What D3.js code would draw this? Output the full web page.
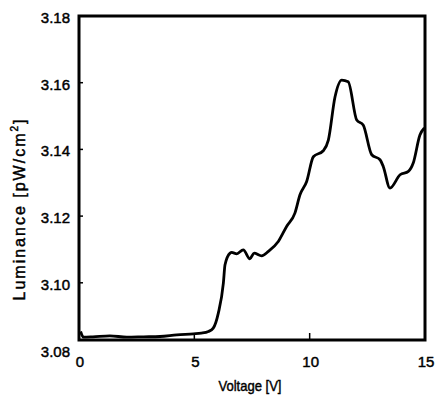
<!DOCTYPE html>
<html>
<head>
<meta charset="utf-8">
<script src="https://cdn.jsdelivr.net/npm/d3@7"></script>
<style>
  body { margin: 0; background: white; }
  text { font-family: "Liberation Sans", Arial, sans-serif; fill: #000; stroke: #000; stroke-width: 0.45; }
</style>
</head>
<body>
<svg id="chart" width="438" height="406"></svg>
<script>
// luminance curve
const voltage = [0.07, 0.19, 0.6, 1.34, 2.07, 2.8, 3.51, 4.24, 4.96, 5.3, 5.61, 5.82, 6.04, 6.26, 6.33, 6.55, 6.62,
  6.84, 7.12, 7.41, 7.59, 7.92, 8.21, 8.64, 9.0, 9.36, 9.58, 9.87, 10.16, 10.59, 10.81, 11.1, 11.39, 11.67,
  12.04, 12.32, 12.69, 13.05, 13.19, 13.48, 13.92, 14.28, 14.49, 14.78, 14.97];
const luminance = [3.0854, 3.0837, 3.0838, 3.0841, 3.0837, 3.0838, 3.0839, 3.0844, 3.0847, 3.0849, 3.0854, 3.0864, 3.0909, 3.1000, 3.1054, 3.1089, 3.1091,
  3.1087, 3.1099, 3.1072, 3.1089, 3.1081, 3.1094, 3.1124, 3.1169, 3.1209, 3.1264, 3.1304, 3.1378, 3.1396, 3.1428, 3.1558, 3.1608, 3.1603,
  3.1488, 3.1473, 3.1384, 3.1369, 3.1349, 3.1284, 3.1324, 3.1334, 3.1359, 3.1443, 3.1464];

const xTicks = [0, 5, 10, 15];
const yTicks = [3.08, 3.10, 3.12, 3.14, 3.16, 3.18];

const svg = d3.select('#chart');

const m = {left: 79, right: 425, top: 16, bottom: 340};

const xScale = d3.scaleLinear().domain([0, 15]).range([m.left, m.right]);
// 3.08 sits a little below the drawn frame in the original
const yScale = d3.scaleLinear().domain([3.08, 3.18]).range([349.5, m.top]);

const data = voltage.map((v, i) => ({x: v, y: luminance[i]}));

// curve
const line = d3.line()
  .x(d => xScale(d.x))
  .y(d => yScale(d.y))
  .curve(d3.curveMonotoneX);

svg.append('path')
  .datum(data)
  .attr('d', line)
  .attr('fill', 'none')
  .attr('stroke', '#000')
  .attr('stroke-width', 2.8)
  .attr('stroke-linejoin', 'round');

// frame
svg.append('rect')
  .attr('x', m.left)
  .attr('y', m.top)
  .attr('width', m.right - m.left)
  .attr('height', m.bottom - m.top)
  .attr('fill', 'none')
  .attr('stroke', '#000')
  .attr('stroke-width', 3);

// y ticks, pointing inwards
svg.selectAll('line.ytick')
  .data(yTicks.filter(d => d > 3.085 && d < 3.175))
  .enter().append('line')
  .attr('class', 'ytick')
  .attr('x1', m.left)
  .attr('x2', m.left + 4)
  .attr('y1', d => yScale(d))
  .attr('y2', d => yScale(d))
  .attr('stroke', '#000')
  .attr('stroke-width', 1.5);

svg.selectAll('text.ylabel')
  .data(yTicks)
  .enter().append('text')
  .attr('class', 'ylabel')
  .attr('x', 70)
  .attr('y', d => yScale(d) + 7)
  .attr('text-anchor', 'end')
  .attr('font-size', 15)
  .text(d => d.toFixed(2));

// x ticks
svg.selectAll('line.xtick')
  .data(xTicks.filter(d => d > 0 && d < 15))
  .enter().append('line')
  .attr('class', 'xtick')
  .attr('x1', d => xScale(d))
  .attr('x2', d => xScale(d))
  .attr('y1', m.bottom)
  .attr('y2', m.bottom - 7)
  .attr('stroke', '#000')
  .attr('stroke-width', 1.5);

svg.selectAll('text.xlabel')
  .data(xTicks)
  .enter().append('text')
  .attr('class', 'xlabel')
  .attr('x', d => xScale(d) + 1)
  .attr('y', 367)
  .attr('text-anchor', 'middle')
  .attr('font-size', 15)
  .text(d => d);

// axis titles
svg.append('text')
  .attr('x', 250)
  .attr('y', 391)
  .attr('text-anchor', 'middle')
  .attr('font-size', 15)
  .attr('textLength', 63)
  .attr('lengthAdjust', 'spacingAndGlyphs')
  .text('Voltage [V]');

const ytitle = svg.append('text')
  .attr('transform', 'translate(25,209) rotate(-90)')
  .attr('text-anchor', 'middle')
  .attr('font-size', 16)
  .attr('letter-spacing', 2);
ytitle.append('tspan').text('Luminance [pW/cm');
ytitle.append('tspan').attr('font-size', 10).attr('dy', -7).text('2');
ytitle.append('tspan').attr('dy', 7).text(']');
</script>
</body>
</html>
